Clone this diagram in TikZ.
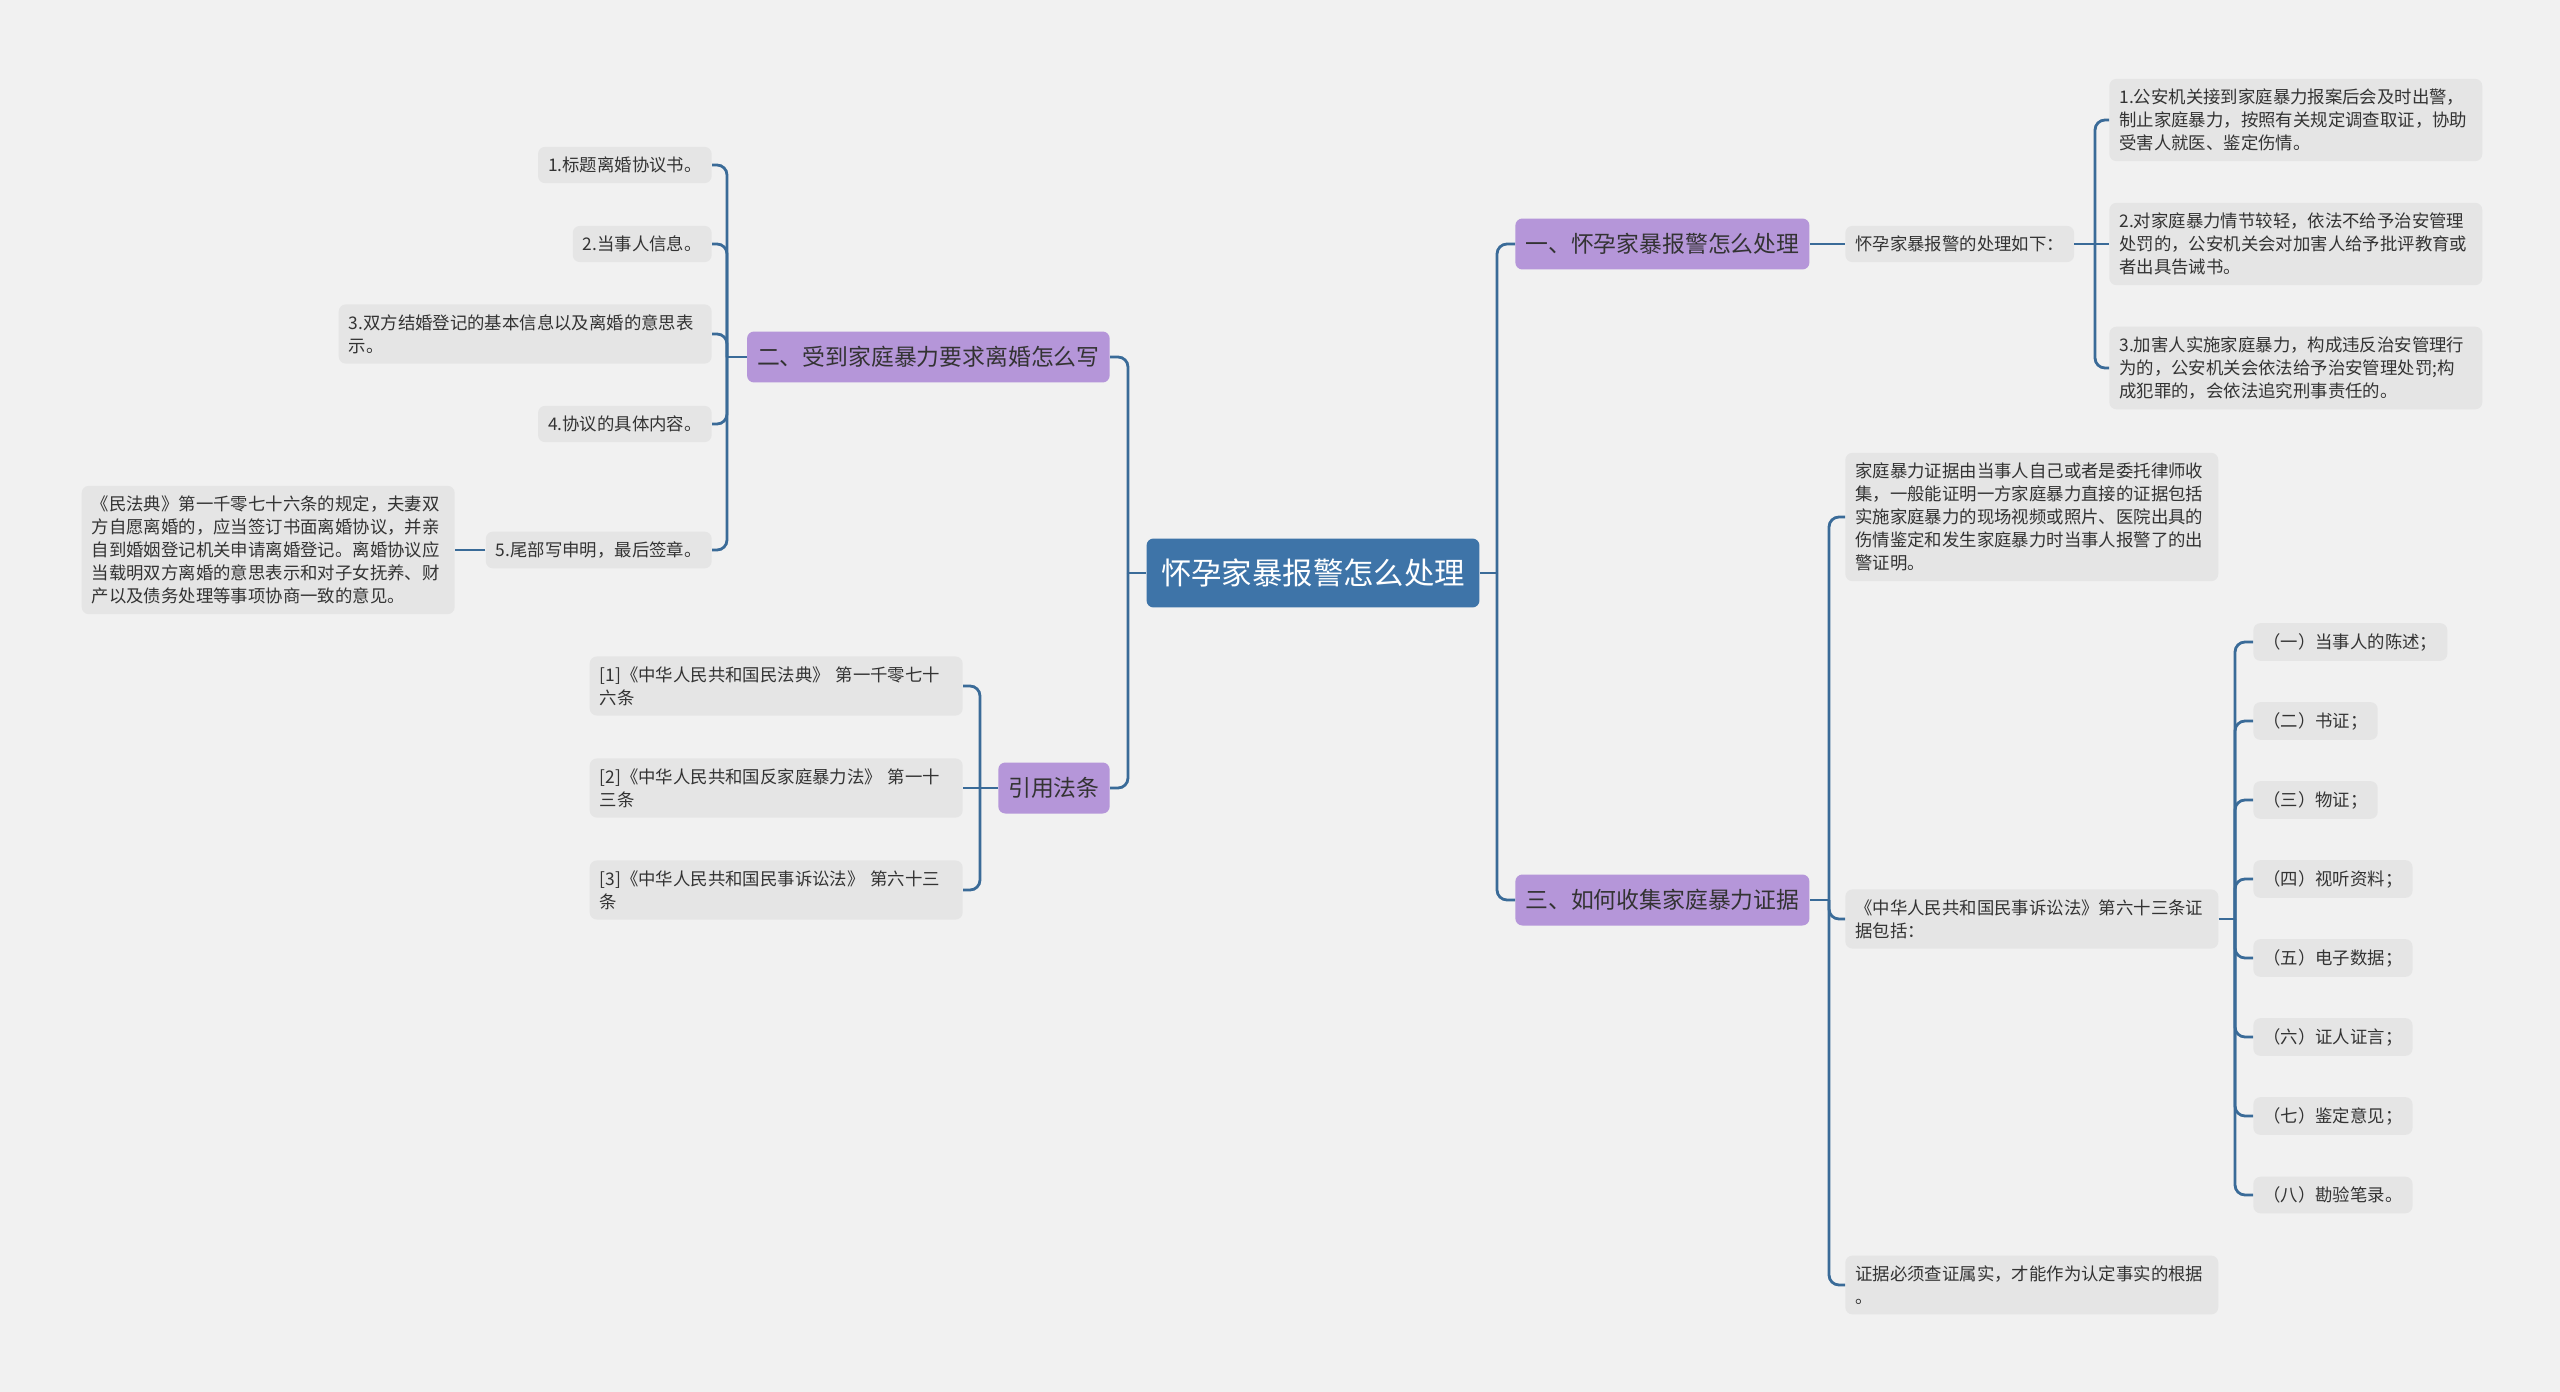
\documentclass[tikz,border=0pt]{standalone}
\usepackage{fontspec}
\setmainfont{Noto Sans CJK SC}
\usetikzlibrary{positioning}

\definecolor{bgcol}{HTML}{F1F1F1}
\definecolor{rootblue}{HTML}{3E74A8}
\definecolor{topicpurple}{HTML}{B596D9}
\definecolor{leafgray}{HTML}{E5E5E5}
\definecolor{linkblue}{HTML}{3A6B98}
\definecolor{textdark}{HTML}{333333}

\tikzset{
  rootbox/.style={fill=rootblue, text=white, rounded corners=4pt,
    font=\fontsize{17.3}{20}\selectfont, minimum width=6.66cm, minimum height=1.38cm},
  topicbox/.style={fill=topicpurple, text=textdark, rounded corners=4pt,
    font=\fontsize{13}{15}\selectfont, inner xsep=0.2cm, minimum height=1.02cm},
  leafbox/.style={fill=leafgray, text=textdark, rounded corners=4pt,
    font=\fontsize{9.9}{13.1}\selectfont, inner xsep=0.2cm, inner ysep=0.2cm, align=left},
  widebox/.style={leafbox, text width=7.06cm},
  link/.style={draw=linkblue, line width=1.6pt, rounded corners=0.2cm},
}

\begin{document}
\begin{tikzpicture}[x=0.02cm, y=-0.02cm]
  \fill[bgcol] (0,0) rectangle (2560,1392);
  \useasboundingbox (0,0) rectangle (2560,1392);

  % --- root ---
  \node[rootbox] (root) at (1313,573) {怀孕家暴报警怎么处理};
  \coordinate (jl) at (1128,573);
  \coordinate (jr) at (1497,573);

  % --- main topics ---
  \node[topicbox, anchor=west] (t1) at (1515,244) {一、怀孕家暴报警怎么处理};
  \node[topicbox, anchor=west] (t3) at (1515,900) {三、如何收集家庭暴力证据};
  \node[topicbox, anchor=east] (t2) at (1110,357) {二、受到家庭暴力要求离婚怎么写};
  \node[topicbox, anchor=east] (t4) at (1110,788) {引用法条};

  \draw[link] (root.east) -- (jr);
  \draw[link] (jr) |- (t1.west);
  \draw[link] (jr) |- (t3.west);
  \draw[link] (root.west) -- (jl);
  \draw[link] (jl) |- (t2.east);
  \draw[link] (jl) |- (t4.east);

  % --- topic 1 ---
  \node[leafbox, anchor=west] (a1) at (1845,244) {怀孕家暴报警的处理如下：};
  \coordinate (ja1) at (2095,244);
  \node[widebox, anchor=west] (a11) at (2109,120)
    {1.公安机关接到家庭暴力报案后会及时出警，\\制止家庭暴力，按照有关规定调查取证，协助\\受害人就医、鉴定伤情。};
  \node[widebox, anchor=west] (a12) at (2109,244)
    {2.对家庭暴力情节较轻，依法不给予治安管理\\处罚的，公安机关会对加害人给予批评教育或\\者出具告诫书。};
  \node[widebox, anchor=west] (a13) at (2109,368)
    {3.加害人实施家庭暴力，构成违反治安管理行\\为的，公安机关会依法给予治安管理处罚;构\\成犯罪的，会依法追究刑事责任的。};

  \draw[link] (t1.east) -- (a1.west);
  \draw[link] (a1.east) -- (ja1);
  \draw[link] (ja1) |- (a11.west);
  \draw[link] (ja1) -- (a12.west);
  \draw[link] (ja1) |- (a13.west);

  % --- topic 3 ---
  \coordinate (jt3) at (1829,900);
  \node[widebox, anchor=west] (b1) at (1845,517)
    {家庭暴力证据由当事人自己或者是委托律师收\\集，一般能证明一方家庭暴力直接的证据包括\\实施家庭暴力的现场视频或照片、医院出具的\\伤情鉴定和发生家庭暴力时当事人报警了的出\\警证明。};
  \node[widebox, anchor=west] (b2) at (1845,919)
    {《中华人民共和国民事诉讼法》第六十三条证\\据包括：};
  \node[widebox, anchor=west] (b3) at (1845,1285)
    {证据必须查证属实，才能作为认定事实的根据\\。};

  \draw[link] (t3.east) -- (jt3);
  \draw[link] (jt3) |- (b1.west);
  \draw[link] (jt3) |- (b2.west);
  \draw[link] (jt3) |- (b3.west);

  \coordinate (jb2) at (2235,919);
  \draw[link] (b2.east) -- (jb2);
  \foreach \txt [count=\i] in {（一）当事人的陈述；, （二）书证；, （三）物证；, （四）视听资料；,
      （五）电子数据；, （六）证人证言；, （七）鉴定意见；, （八）勘验笔录。} {
    \node[leafbox, anchor=west] (c\i) at (2253,{642+79*(\i-1)}) {\txt};
    \draw[link] (jb2) |- (c\i.west);
  }

  % --- topic 2 ---
  \coordinate (jt2) at (727,357);
  \node[leafbox, anchor=east] (d1) at (712,165) {1.标题离婚协议书。};
  \node[leafbox, anchor=east] (d2) at (712,244) {2.当事人信息。};
  \node[widebox, anchor=east] (d3) at (712,334)
    {3.双方结婚登记的基本信息以及离婚的意思表\\示。};
  \node[leafbox, anchor=east] (d4) at (712,424) {4.协议的具体内容。};
  \node[leafbox, anchor=east] (d5) at (712,550) {5.尾部写申明，最后签章。};
  \node[widebox, anchor=east] (e1) at (455,550)
    {《民法典》第一千零七十六条的规定，夫妻双\\方自愿离婚的，应当签订书面离婚协议，并亲\\自到婚姻登记机关申请离婚登记。离婚协议应\\当载明双方离婚的意思表示和对子女抚养、财\\产以及债务处理等事项协商一致的意见。};

  \draw[link] (t2.west) -- (jt2);
  \foreach \k in {1,...,5} {
    \draw[link] (jt2) |- (d\k.east);
  }
  \draw[link] (d5.west) -- (e1.east);

  % --- topic 4 ---
  \coordinate (jt4) at (980,788);
  \node[widebox, anchor=east] (f1) at (963,686)
    {[1]《中华人民共和国民法典》 第一千零七十\\六条};
  \node[widebox, anchor=east] (f2) at (963,788)
    {[2]《中华人民共和国反家庭暴力法》 第一十\\三条};
  \node[widebox, anchor=east] (f3) at (963,890)
    {[3]《中华人民共和国民事诉讼法》 第六十三\\条};

  \draw[link] (t4.west) -- (jt4);
  \draw[link] (jt4) |- (f1.east);
  \draw[link] (jt4) -- (f2.east);
  \draw[link] (jt4) |- (f3.east);
\end{tikzpicture}
\end{document}
